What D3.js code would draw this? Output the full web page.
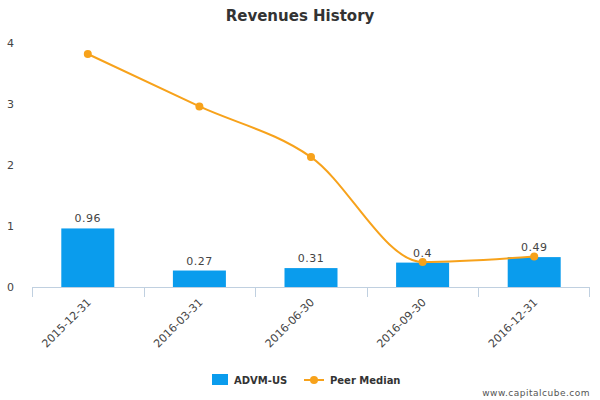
<!DOCTYPE html>
<html><head><meta charset="utf-8">
<script src="https://cdn.jsdelivr.net/npm/d3@7"></script>
<style>body{margin:0;background:#fff}text{font-family:"DejaVu Sans",Arial,sans-serif}</style>
</head><body><svg id="c" width="600" height="400"></svg>
<script>
const categories=["2015-12-31","2016-03-31","2016-06-30","2016-09-30","2016-12-31"];
const advm=[0.96,0.27,0.31,0.4,0.49];
const peer=[3.82,2.96,2.13,0.41,0.50];
const yTicks=[0,1,2,3,4];
const svg=d3.select("#c");
const x=d3.scaleBand().domain(categories).range([32,590]);
const y=d3.scaleLinear().domain([0,4]).range([287,43]);
svg.append("text").attr("x",300).attr("y",21).attr("text-anchor","middle").attr("font-size",15).attr("font-weight","bold").attr("fill","#333").text("Revenues History");
yTicks.forEach(t=>svg.append("text").attr("x",14).attr("y",y(t)+4).attr("text-anchor","end").attr("font-size",11).attr("fill","#444").text(t));
svg.append("line").attr("x1",32).attr("x2",590).attr("y1",287.5).attr("y2",287.5).attr("stroke","#c0d0e0");
categories.forEach((c,i)=>{
  const xs=[x(c),x(c)+x.bandwidth()];
  if(i<categories.length) svg.append("line").attr("x1",Math.round(x(c))+0.5).attr("x2",Math.round(x(c))+0.5).attr("y1",287).attr("y2",297).attr("stroke","#c0d0e0");
});
svg.append("line").attr("x1",589.5).attr("x2",589.5).attr("y1",287).attr("y2",297).attr("stroke","#c0d0e0");
const bw=53;
svg.selectAll("rect.b").data(advm).join("rect").attr("x",(d,i)=>x(categories[i])+x.bandwidth()/2-bw/2).attr("width",bw).attr("y",d=>y(d)).attr("height",d=>y(0)-y(d)).attr("fill","#0a9ced");
svg.selectAll("text.v").data(advm).join("text").attr("x",(d,i)=>x(categories[i])+x.bandwidth()/2).attr("y",d=>y(d)-6).attr("text-anchor","middle").attr("font-size",11).attr("fill","#444").attr("letter-spacing","0.5").text(d=>d);
const cx=(i)=>x(categories[i])+x.bandwidth()/2;
const line=d3.line().x((d,i)=>cx(i)).y(d=>y(d)).curve(d3.curveMonotoneX);
svg.append("path").attr("d",line(peer)).attr("fill","none").attr("stroke","#f7a21b").attr("stroke-width",2);
svg.selectAll("circle.p").data(peer).join("circle").attr("cx",(d,i)=>cx(i)).attr("cy",d=>y(d)).attr("r",4).attr("fill","#f7a21b");
categories.forEach((c,i)=>{
  svg.append("text").attr("transform",`translate(${cx(i)+4},${303}) rotate(-45)`).attr("text-anchor","end").attr("font-size",11).attr("fill","#444").text(c);
});
svg.append("rect").attr("x",212).attr("y",374).attr("width",16).attr("height",11).attr("fill","#0a9ced");
svg.append("text").attr("x",234).attr("y",384).attr("font-size",10).attr("font-weight","bold").attr("fill","#333").text("ADVM-US");
svg.append("line").attr("x1",304).attr("x2",324).attr("y1",380).attr("y2",380).attr("stroke","#f7a21b").attr("stroke-width",2);
svg.append("circle").attr("cx",314).attr("cy",380).attr("r",4).attr("fill","#f7a21b");
svg.append("text").attr("x",330).attr("y",384).attr("font-size",10).attr("font-weight","bold").attr("fill","#333").text("Peer Median");
svg.append("text").attr("x",590).attr("y",396).attr("text-anchor","end").attr("font-size",9).attr("fill","#555").attr("letter-spacing","0.5").text("www.capitalcube.com");
</script></body></html>
